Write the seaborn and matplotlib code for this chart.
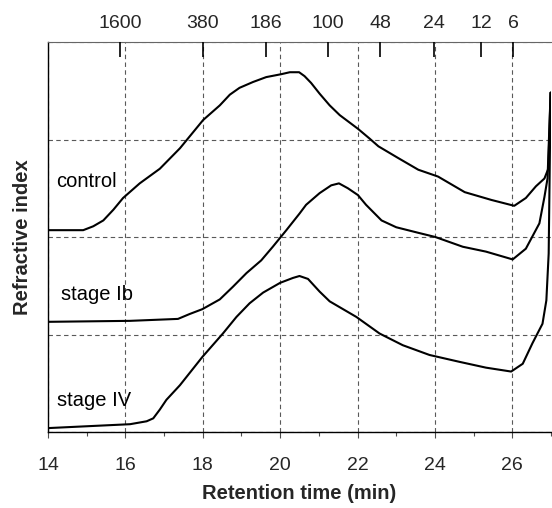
import numpy as np
import pandas as pd
import matplotlib
matplotlib.use("Agg")
import matplotlib.pyplot as plt
import seaborn as sns
from matplotlib.ticker import MultipleLocator, FixedLocator, NullFormatter

# ---- data ----
control_t = [14.0, 14.91, 15.17, 15.43, 15.69, 15.94, 16.37, 16.89, 17.41, 18.01, 18.44,
             18.70, 18.95, 19.30, 19.64, 20.03, 20.25, 20.49, 20.63, 20.80, 21.02,
             21.28, 21.54, 22.01, 22.31, 22.54, 23.05, 23.57, 24.08, 24.77, 25.46,
             26.05, 26.35, 26.61, 26.83, 26.93, 26.99]
control_y = [2.07, 2.07, 2.11, 2.17, 2.28, 2.40, 2.55, 2.70, 2.91, 3.20, 3.35,
             3.46, 3.53, 3.59, 3.64, 3.67, 3.69, 3.69, 3.65, 3.58, 3.47,
             3.35, 3.25, 3.11, 3.01, 2.93, 2.81, 2.69, 2.62, 2.46, 2.38,
             2.32, 2.40, 2.52, 2.60, 2.70, 3.48]

stage_ib_t = [14.0, 16.12, 17.36, 17.66, 17.99, 18.44, 18.78, 19.13, 19.51, 19.81, 20.16,
              20.5, 20.67, 21.02, 21.32, 21.52, 21.75, 22.01, 22.22, 22.62, 23.0,
              23.6, 24.01, 24.72, 25.32, 26.01, 26.35, 26.7, 26.83, 26.91, 26.99]
stage_ib_y = [1.13, 1.14, 1.16, 1.21, 1.26, 1.36, 1.49, 1.63, 1.76, 1.90, 2.07,
              2.24, 2.33, 2.45, 2.53, 2.55, 2.50, 2.43, 2.33, 2.17, 2.10,
              2.04, 2.00, 1.90, 1.85, 1.77, 1.88, 2.14, 2.41, 2.60, 3.48]

stage_iv_t = [14.0, 16.12, 16.55, 16.72, 16.89, 17.06, 17.41, 17.99, 18.52, 18.87, 19.21,
              19.56, 20.0, 20.33, 20.5, 20.72, 21.02, 21.28, 21.97, 22.57, 23.17,
              23.86, 24.63, 25.32, 25.97, 26.27, 26.52, 26.78, 26.88, 26.94, 26.99]
stage_iv_y = [0.04, 0.08, 0.11, 0.14, 0.23, 0.33, 0.48, 0.77, 1.01, 1.18, 1.32,
              1.43, 1.53, 1.58, 1.60, 1.57, 1.44, 1.34, 1.18, 1.01, 0.89,
              0.79, 0.72, 0.66, 0.62, 0.70, 0.91, 1.11, 1.35, 1.83, 3.48]

series_names = ["control", "stage Ib", "stage IV"]
label_pos_t = [14.22, 14.33, 14.24]
label_pos_y = [2.51, 1.35, 0.27]

mw_positions = [15.86, 18.0, 19.63, 21.23, 22.59, 23.97, 25.19, 26.03]
mw_labels = ["1600", "380", "186", "100", "48", "24", "12", "6"]

bottom_ticks = [14, 16, 18, 20, 22, 24, 26]

# ---- build long-form table ----
frames = []
for name, t, y in zip(series_names,
                      [control_t, stage_ib_t, stage_iv_t],
                      [control_y, stage_ib_y, stage_iv_y]):
    frames.append(pd.DataFrame({"time": t, "ri": y, "sample": name}))
df = pd.concat(frames, ignore_index=True)

sns.set_style("white")
plt.rcParams["font.family"] = ["Liberation Sans", "DejaVu Sans"]

fig = plt.figure(figsize=(5.52, 5.08), dpi=100)
ax = fig.add_axes([48 / 552, 1 - 432 / 508, (551 - 48) / 552, (432 - 42) / 508])

sns.lineplot(data=df, x="time", y="ri", hue="sample", units="sample",
             estimator=None, sort=False, palette=["black"] * 3,
             linewidth=1.5, legend=False, ax=ax, zorder=3)
for ln in ax.lines:
    ln.set_solid_joinstyle("round")
    ln.set_solid_capstyle("round")

ax.set_xlim(14, 27)
ax.set_ylim(0, 4)

ax.xaxis.set_major_locator(FixedLocator(bottom_ticks))
ax.xaxis.set_minor_locator(MultipleLocator(1))
ax.yaxis.set_major_locator(MultipleLocator(1))
ax.yaxis.set_major_formatter(NullFormatter())
ax.tick_params(axis="y", length=0)
ax.tick_params(axis="x", which="major", direction="out", length=4, width=0.8,
               color="0.3", labelsize=14, pad=14)
ax.tick_params(axis="x", which="minor", direction="out", length=3, width=0.8,
               color="0.3")

ax.grid(True, which="major", linestyle=(0, (4, 3)), color="0.35", linewidth=0.8)

for side in ["left", "bottom"]:
    ax.spines[side].set_color("black")
    ax.spines[side].set_linewidth(1.0)
ax.spines["top"].set_color("0.4")
ax.spines["top"].set_linewidth(0.8)
ax.spines["right"].set_visible(False)

ax.set_xlabel("Retention time (min)", fontsize=14.5, fontweight="bold", labelpad=7)
ax.set_ylabel("Refractive index", fontsize=14.5, fontweight="bold", labelpad=8)

for name, tx, ty in zip(series_names, label_pos_t, label_pos_y):
    ax.text(tx, ty, name, fontsize=14.5, ha="left", va="baseline", color="black")

# top molecular-weight axis
ax2 = ax.twiny()
ax2.set_xlim(ax.get_xlim())
ax2.set_xticks(mw_positions)
ax2.set_xticklabels(mw_labels)
ax2.tick_params(axis="x", direction="in", length=11, width=1.2, color="black",
                labelsize=14, pad=7)
for s in ax2.spines.values():
    s.set_visible(False)
ax2.grid(False)

fig.savefig("out.png", dpi=100)
